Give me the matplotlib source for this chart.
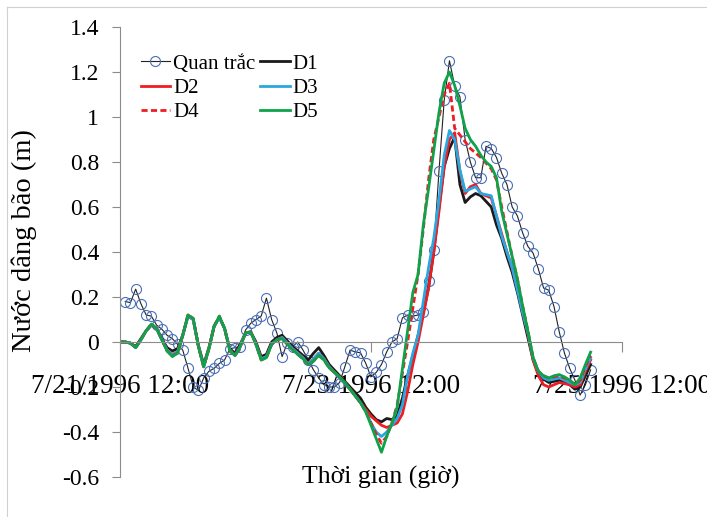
import matplotlib
matplotlib.use("Agg")
import matplotlib.pyplot as plt
from matplotlib.lines import Line2D

plt.rcParams["font.family"] = ["Liberation Serif", "DejaVu Serif"]

# hours counted from 7/21/1996 12:00
obs_hours = list(range(1, 91))
obs_values = [
    0.18, 0.175, 0.235, 0.17, 0.12, 0.115, 0.075, 0.057, 0.03, 0.015,
    -0.01, -0.036, -0.116, -0.2, -0.215, -0.16, -0.13, -0.117, -0.095, -0.08,
    -0.03, -0.025, -0.02, 0.053, 0.083, 0.1, 0.115, 0.195, 0.1, 0.04,
    -0.065, -0.005, -0.02, 0.0, -0.036, -0.08, -0.124, -0.16, -0.19, -0.2,
    -0.2, -0.18, -0.11, -0.036, -0.044, -0.048, -0.095, -0.155, -0.135, -0.1,
    -0.044, 0.0, 0.015, 0.107, 0.12, 0.115, 0.12, 0.135, 0.27, 0.41,
    0.76, 1.075, 1.25, 1.14, 1.09, 0.9, 0.8, 0.73, 0.73, 0.87,
    0.86, 0.82, 0.75, 0.70, 0.6, 0.56, 0.485, 0.425, 0.395, 0.325,
    0.24, 0.23, 0.157, 0.045, -0.05, -0.117, -0.17, -0.236, -0.19, -0.124,
]

model_hours = list(range(0, 91))

d1 = [
    0, 0, -0.005, -0.02, 0.015, 0.05, 0.075, 0.06, 0.015, -0.025,
    -0.04, -0.03, 0.03, 0.115, 0.1, -0.015, -0.1, -0.025, 0.07, 0.11,
    0.06, -0.03, -0.05, -0.01, 0.04, 0.045, 0.0, -0.065, -0.055, 0.0,
    0.02, 0.03, 0.005, -0.02, -0.04, -0.06, -0.08, -0.05, -0.025, -0.06,
    -0.1, -0.125, -0.15, -0.175, -0.2, -0.225, -0.25, -0.29, -0.32, -0.345,
    -0.355, -0.34, -0.345, -0.33, -0.25, -0.15, -0.06, 0.03, 0.13, 0.24,
    0.4, 0.6, 0.78, 0.86, 0.91, 0.7, 0.62, 0.645, 0.66, 0.65,
    0.625, 0.6, 0.52, 0.46, 0.38, 0.31, 0.22, 0.12, 0.02, -0.08,
    -0.14, -0.165, -0.18, -0.175, -0.17, -0.18, -0.19, -0.21, -0.2, -0.15,
    -0.1,
]
d2 = [
    0, 0, -0.005, -0.025, 0.01, 0.05, 0.075, 0.06, 0.01, -0.035,
    -0.055, -0.045, 0.03, 0.12, 0.1, -0.02, -0.11, -0.03, 0.07, 0.11,
    0.06, -0.035, -0.06, -0.02, 0.04, 0.045, -0.01, -0.075, -0.065, -0.01,
    0.01, 0.02, -0.005, -0.03, -0.05, -0.07, -0.1, -0.075, -0.05, -0.075,
    -0.11, -0.135, -0.16, -0.185, -0.21, -0.24, -0.27, -0.3, -0.33, -0.35,
    -0.37, -0.38, -0.37, -0.36, -0.32, -0.22, -0.1, 0.0, 0.12, 0.24,
    0.4, 0.58, 0.78, 0.9, 0.93, 0.76, 0.66, 0.69, 0.7, 0.66,
    0.65, 0.64, 0.56, 0.48, 0.4, 0.33, 0.24, 0.14, 0.04, -0.08,
    -0.15, -0.19, -0.2, -0.19, -0.18, -0.185, -0.19, -0.2, -0.19, -0.13,
    -0.08,
]
d3 = [
    0, 0, -0.005, -0.025, 0.01, 0.05, 0.075, 0.06, 0.01, -0.035,
    -0.055, -0.045, 0.03, 0.115, 0.1, -0.02, -0.11, -0.03, 0.07, 0.11,
    0.06, -0.035, -0.06, -0.02, 0.04, 0.045, -0.01, -0.075, -0.065, -0.01,
    0.01, 0.02, -0.005, -0.03, -0.05, -0.07, -0.1, -0.075, -0.05, -0.075,
    -0.11, -0.135, -0.16, -0.185, -0.21, -0.24, -0.27, -0.31, -0.36, -0.4,
    -0.42, -0.4, -0.37, -0.34, -0.28, -0.15, -0.05, 0.03, 0.18, 0.33,
    0.46, 0.63, 0.83, 0.94, 0.9, 0.765, 0.67, 0.68, 0.69, 0.66,
    0.655, 0.65, 0.56, 0.47, 0.4, 0.33, 0.23, 0.13, 0.04, -0.07,
    -0.13, -0.16, -0.17, -0.165, -0.16, -0.17, -0.18, -0.19, -0.18, -0.12,
    -0.07,
]
d4 = [
    0, 0, -0.005, -0.025, 0.01, 0.05, 0.08, 0.06, 0.01, -0.04,
    -0.06, -0.05, 0.03, 0.12, 0.105, -0.02, -0.11, -0.03, 0.07, 0.115,
    0.06, -0.04, -0.06, -0.02, 0.04, 0.045, -0.01, -0.08, -0.07, -0.01,
    0.01, 0.015, -0.01, -0.035, -0.055, -0.075, -0.1, -0.085, -0.06, -0.08,
    -0.115, -0.135, -0.155, -0.18, -0.21, -0.24, -0.27, -0.31, -0.36, -0.41,
    -0.45, -0.42, -0.36, -0.28, -0.14, 0.0, 0.15, 0.3, 0.5, 0.72,
    0.9, 1.0, 1.1, 1.15, 0.95, 0.92, 0.89, 0.86, 0.84, 0.82,
    0.795, 0.77, 0.72, 0.6, 0.49, 0.38, 0.28, 0.16, 0.05, -0.07,
    -0.13, -0.15, -0.16, -0.155, -0.15, -0.16, -0.17, -0.19, -0.17, -0.11,
    -0.06,
]
d5 = [
    0, 0, -0.005, -0.025, 0.01, 0.05, 0.08, 0.06, 0.01, -0.04,
    -0.065, -0.05, 0.03, 0.12, 0.105, -0.02, -0.11, -0.03, 0.07, 0.115,
    0.06, -0.04, -0.06, -0.02, 0.04, 0.045, -0.01, -0.08, -0.07, -0.01,
    0.01, 0.015, -0.01, -0.035, -0.055, -0.075, -0.1, -0.085, -0.06, -0.08,
    -0.115, -0.135, -0.155, -0.18, -0.21, -0.24, -0.27, -0.31, -0.37, -0.43,
    -0.49, -0.42, -0.36, -0.29, -0.12, 0.05, 0.22, 0.3, 0.52, 0.68,
    0.85, 1.02, 1.15, 1.2, 1.14, 1.05, 0.95, 0.9, 0.87, 0.83,
    0.8, 0.78, 0.73, 0.58, 0.48, 0.38, 0.28, 0.16, 0.05, -0.07,
    -0.13, -0.15, -0.16, -0.15, -0.145, -0.155, -0.17, -0.19, -0.16, -0.1,
    -0.045,
]

x_tick_hours = [0, 48, 96]
x_tick_labels = ["7/21/1996 12:00", "7/23/1996 12:00", "7/25/1996 12:00"]
y_ticks = [-0.6, -0.4, -0.2, 0, 0.2, 0.4, 0.6, 0.8, 1, 1.2, 1.4]

W, H = 707, 517
fig = plt.figure(figsize=(W / 100, H / 100), dpi=100)
ax = fig.add_axes([120 / W, 1 - 477 / H, 502 / W, 450 / H])

gray = "#8c8c8c"
ax.plot(obs_hours, obs_values, color="#222222", lw=0.8, marker="o", ms=7.2,
        mfc="none", mec="#4a6fb5", mew=0.8, label="Quan trắc")
ax.plot(model_hours, d1, color="#1a1a1a", lw=2.0, label="D1")
ax.plot(model_hours, d2, color="#ee1d23", lw=2.0, label="D2")
ax.plot(model_hours, d3, color="#2aa7e0", lw=2.0, label="D3")
ax.plot(model_hours, d4, color="#ee1d23", lw=2.0, ls=(0, (2.2, 1.2)), label="D4")
ax.plot(model_hours, d5, color="#0ea24a", lw=2.0, label="D5")

ax.set_xlim(0, 96)
ax.set_ylim(-0.6, 1.4)
ax.set_yticks(y_ticks)
ax.set_yticklabels([f"{v:g}" for v in y_ticks])
ax.set_xticks(x_tick_hours)
ax.set_xticklabels(x_tick_labels)

for s in ["top", "right"]:
    ax.spines[s].set_visible(False)
ax.spines["left"].set_color(gray)
ax.spines["bottom"].set_color(gray)
ax.spines["bottom"].set_position(("data", 0))
ax.tick_params(axis="y", direction="out", length=6, color=gray, labelsize=17, pad=9)
ax.tick_params(axis="x", direction="out", length=7, color=gray, labelsize=19.5, pad=16)

ax.set_ylabel("Nước dâng bão (m)", fontsize=20.5)
ax.yaxis.set_label_coords(-0.165, 0.525)
ax.set_xlabel("Thời gian (giờ)", fontsize=18.5)
ax.xaxis.set_label_coords(0.52, 0.0)
ax.xaxis.label.set_va("center")

# matplotlib fills legend columns first; reorder so rows read like the original
handles, labels = ax.get_legend_handles_labels()
order = [0, 2, 4, 1, 3, 5]
ax.legend([handles[i] for i in order], [labels[i] for i in order], ncol=2,
          loc="upper left", bbox_to_anchor=(0.012, 0.972), frameon=False,
          fontsize=15, handlelength=1.4, handletextpad=0.15, columnspacing=0.25,
          labelspacing=0.22, borderpad=0.2)

fig.add_artist(Line2D([7 / W, 7 / W], [0, 1 - 7 / H], color="#d0d0d0", lw=0.8))
fig.add_artist(Line2D([7 / W, 1], [1 - 7 / H, 1 - 7 / H], color="#d0d0d0", lw=0.8))

fig.savefig("out.png", dpi=100)
